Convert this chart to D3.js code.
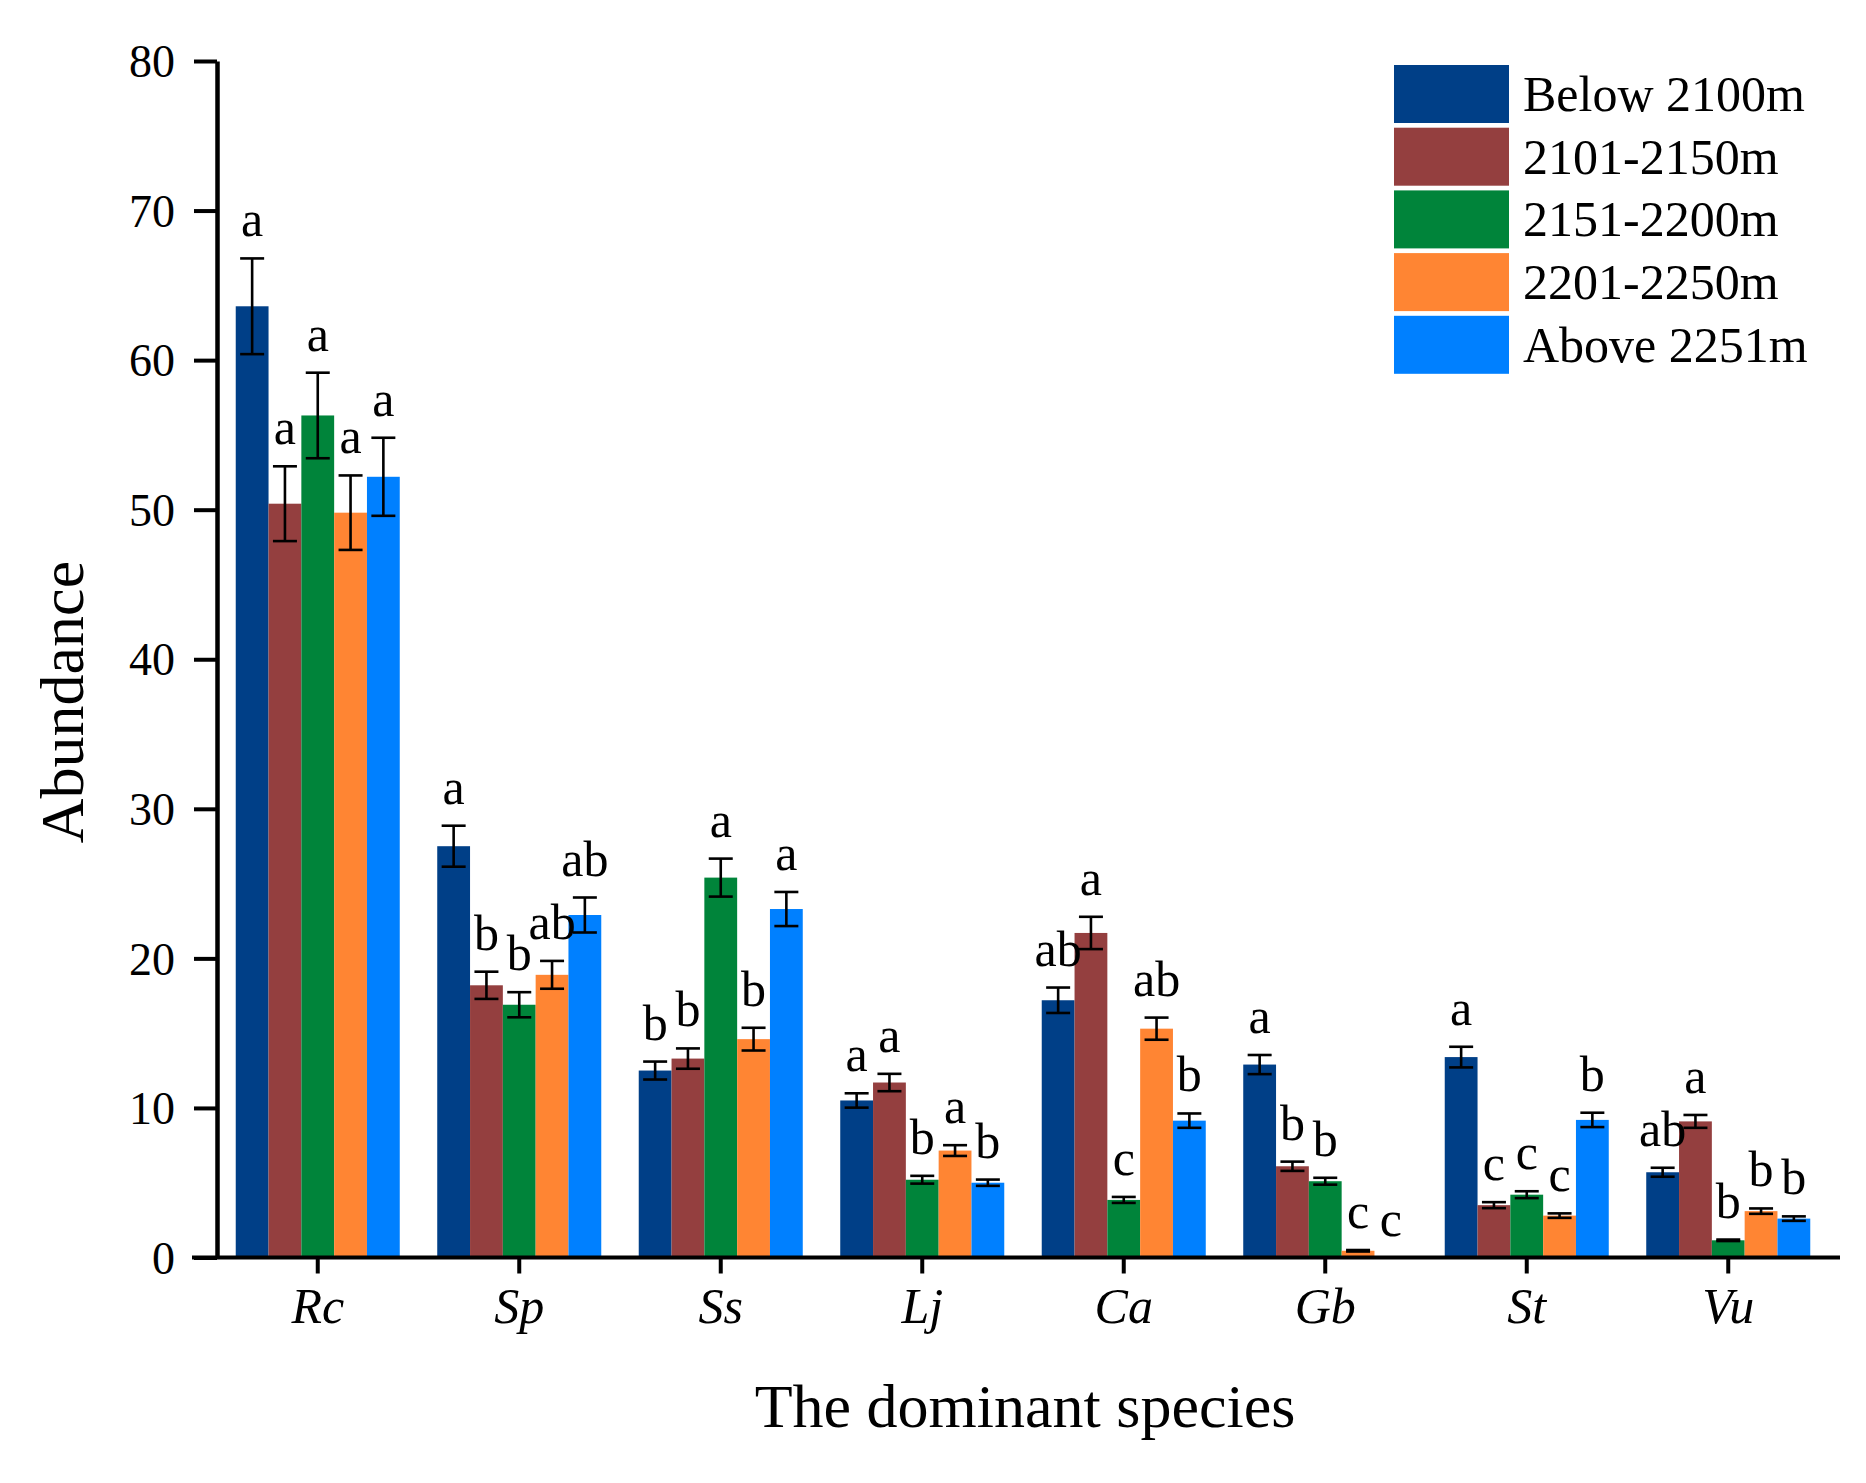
<!DOCTYPE html>
<html>
<head>
<meta charset="utf-8">
<script src="https://cdn.jsdelivr.net/npm/d3@7"></script>
<style>
    body { margin: 0; background: #fff; }
    text { font-family: "Liberation Serif", "Times New Roman", serif; fill: #000; }
</style>
</head>
<body>
<svg id="chart" width="1866" height="1483"></svg>
<script>
const categories = ["Rc", "Sp", "Ss", "Lj", "Ca", "Gb", "St", "Vu"];
const seriesNames = ["Below 2100m", "2101-2150m", "2151-2200m", "2201-2250m", "Above 2251m"];

// mean abundance per category, one array per altitude band
const below2100 = [63.6, 27.5, 12.5, 10.5, 17.2, 12.9, 13.4, 5.7];
const band2101 = [50.4, 18.2, 13.3, 11.7, 21.7, 6.1, 3.5, 9.1];
const band2151 = [56.3, 16.9, 25.4, 5.2, 3.85, 5.1, 4.2, 1.15];
const band2201 = [49.8, 18.9, 14.6, 7.15, 15.3, 0.45, 2.8, 3.1];
const above2251 = [52.2, 22.9, 23.3, 5.0, 9.15, 0, 9.2, 2.6];

// standard errors
const below2100Err = [3.2, 1.37, 0.6, 0.48, 0.85, 0.64, 0.69, 0.3];
const band2101Err = [2.5, 0.91, 0.68, 0.58, 1.08, 0.31, 0.2, 0.43];
const band2151Err = [2.86, 0.84, 1.27, 0.26, 0.2, 0.23, 0.23, 0.05];
const band2201Err = [2.49, 0.93, 0.76, 0.36, 0.74, 0.05, 0.15, 0.18];
const above2251Err = [2.61, 1.17, 1.14, 0.21, 0.48, 0, 0.48, 0.15];

// significance letters
const below2100Sig = ["a", "a", "b", "a", "ab", "a", "a", "ab"];
const band2101Sig = ["a", "b", "b", "a", "a", "b", "c", "a"];
const band2151Sig = ["a", "b", "a", "b", "c", "b", "c", "b"];
const band2201Sig = ["a", "ab", "b", "a", "ab", "c", "c", "b"];
const above2251Sig = ["a", "ab", "a", "b", "b", "c", "b", "b"];

const yTicks = [0, 10, 20, 30, 40, 50, 60, 70, 80];

const colors = ["#003F87", "#943F3F", "#00843A", "#FF8533", "#0080FF"];

const means = [below2100, band2101, band2151, band2201, above2251];
const errs = [below2100Err, band2101Err, band2151Err, band2201Err, above2251Err];
const sigs = [below2100Sig, band2101Sig, band2151Sig, band2201Sig, above2251Sig];

const svg = d3.select("#chart");

const x0 = d3.scaleBand()
    .domain(categories)
    .range([217, 1829])
    .paddingInner(0.186)
    .paddingOuter(0.093);

const x1 = d3.scaleBand()
    .domain(seriesNames)
    .range([0, x0.bandwidth()]);

const y = d3.scaleLinear()
    .domain([0, 80])
    .range([1257.5, 61]);

// flatten into one record per bar
const bars = [];
categories.forEach((c, ci) => {
    seriesNames.forEach((s, si) => {
        bars.push({
            cat: c, series: s, si: si,
            value: means[si][ci], err: errs[si][ci], sig: sigs[si][ci]
        });
    });
});

const plot = svg.append("g");

plot.selectAll("rect.bar")
    .data(bars.filter(d => d.value > 0))
    .enter()
    .append("rect")
    .attr("class", "bar")
    .attr("x", d => x0(d.cat) + x1(d.series))
    .attr("y", d => y(d.value))
    .attr("width", x1.bandwidth())
    .attr("height", d => y(0) - y(d.value))
    .attr("fill", d => colors[d.si]);

// error bars
const capW = 24;
const eb = plot.selectAll("g.err")
    .data(bars.filter(d => d.value > 0))
    .enter()
    .append("g")
    .attr("class", "err")
    .attr("stroke", "#000")
    .attr("stroke-width", 2.6);

const cx = d => x0(d.cat) + x1(d.series) + x1.bandwidth() / 2;

eb.append("line")
    .attr("x1", cx).attr("x2", cx)
    .attr("y1", d => y(d.value + d.err))
    .attr("y2", d => y(d.value - d.err));
eb.append("line")
    .attr("x1", d => cx(d) - capW / 2).attr("x2", d => cx(d) + capW / 2)
    .attr("y1", d => y(d.value + d.err))
    .attr("y2", d => y(d.value + d.err));
eb.append("line")
    .attr("x1", d => cx(d) - capW / 2).attr("x2", d => cx(d) + capW / 2)
    .attr("y1", d => y(d.value - d.err))
    .attr("y2", d => y(d.value - d.err));

// letters above the error bars
plot.selectAll("text.sig")
    .data(bars)
    .enter()
    .append("text")
    .attr("class", "sig")
    .attr("x", cx)
    .attr("y", d => y(d.value + d.err) - 22)
    .attr("text-anchor", "middle")
    .style("font-size", "50px")
    .text(d => d.sig);

// y axis
const yAxis = svg.append("g")
    .attr("transform", "translate(217,0)")
    .call(d3.axisLeft(y).tickValues(yTicks).tickSize(23).tickPadding(19).tickSizeOuter(0));
yAxis.select(".domain").attr("stroke-width", 4.5).attr("stroke", "#000");
yAxis.selectAll(".tick line").attr("stroke-width", 4).attr("stroke", "#000");
yAxis.selectAll(".tick text")
    .attr("dy", "0.34em")
    .style("font-size", "46px")
    .style("font-family", "'Liberation Serif', serif");

// x axis
const xAxis = svg.append("g")
    .attr("transform", `translate(0,${y(0)})`)
    .call(d3.axisBottom(x0).tickSize(16).tickPadding(22).tickSizeOuter(0));
xAxis.select(".domain").remove();
xAxis.append("line")
    .attr("x1", 192).attr("x2", 1840)
    .attr("y1", 0).attr("y2", 0)
    .attr("stroke", "#000")
    .attr("stroke-width", 4);
xAxis.selectAll(".tick line").attr("stroke-width", 4).attr("stroke", "#000");
xAxis.selectAll(".tick text")
    .attr("y", 65)
    .attr("dy", 0)
    .style("font-size", "50px")
    .style("font-style", "italic")
    .style("font-family", "'Liberation Serif', serif");

// axis titles
svg.append("text")
    .attr("x", 1025)
    .attr("y", 1427)
    .attr("text-anchor", "middle")
    .style("font-size", "62px")
    .text("The dominant species");

svg.append("text")
    .attr("transform", "translate(83,702) rotate(-90)")
    .attr("text-anchor", "middle")
    .style("font-size", "62px")
    .text("Abundance");

// legend
const legend = svg.selectAll(".legend")
    .data(seriesNames)
    .enter()
    .append("g")
    .attr("class", "legend")
    .attr("transform", (d, i) => `translate(1394,${65 + i * 62.7})`);

legend.append("rect")
    .attr("width", 115)
    .attr("height", 58)
    .attr("fill", (d, i) => colors[i]);

legend.append("text")
    .attr("x", 129)
    .attr("y", 46)
    .style("font-size", "50px")
    .text(d => d);
</script>
</body>
</html>
